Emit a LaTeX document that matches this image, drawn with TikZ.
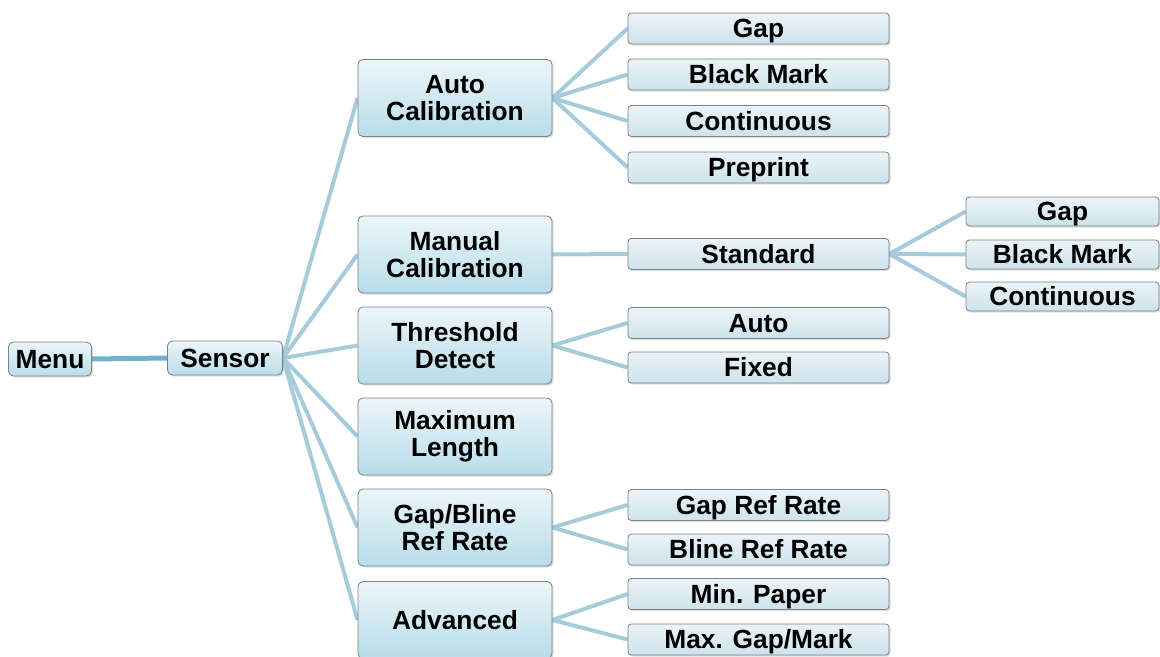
\documentclass[tikz,border=0pt]{standalone}
\usepackage{fontspec}
\setmainfont{Liberation Sans}
\usetikzlibrary{shadows,backgrounds}
\definecolor{linkblue}{RGB}{166,204,220}
\definecolor{rootblue}{RGB}{110,178,204}
\definecolor{boxtop}{RGB}{236,245,249}
\definecolor{boxbot}{RGB}{184,221,233}
\definecolor{leaftop}{RGB}{236,243,247}
\definecolor{leafbot}{RGB}{205,227,236}
\definecolor{boxline}{RGB}{120,130,135}
\begin{document}
\begin{tikzpicture}[x=0.6pt,y=-0.6pt,
  every node/.style={inner sep=0pt,font=\fontsize{15.8}{16.4}\selectfont\bfseries,align=center},
  box/.style={draw=boxline,line width=0.5pt,rounded corners=3pt,top color=boxtop,bottom color=boxbot,
    drop shadow={shadow xshift=1pt,shadow yshift=-1pt,opacity=0.25}},
  topbox/.style={box,minimum height=20.4pt,text height=11.3pt,text depth=0pt},
  midbox/.style={box,minimum width=116.4pt,minimum height=46.2pt},
  leafbox/.style={box,top color=leaftop,bottom color=leafbot,rounded corners=2pt,
    minimum width=156.6pt,minimum height=18.6pt,text height=11.3pt,text depth=0pt},
  subbox/.style={leafbox,minimum width=115.8pt,minimum height=17.4pt},
  link/.style={draw=linkblue,line width=2.4pt}]
\useasboundingbox (0,0) rectangle (1160,657);
\node[topbox,minimum width=49.8pt] (menu) at (50,359) {Menu};
\node[topbox,minimum width=69pt] (sensor) at (225,358) {Sensor};
\node[midbox] (autocal) at (455,98) {Auto\\Calibration};
\node[midbox] (mancal) at (455,254.5) {Manual\\Calibration};
\node[midbox] (thresh) at (455,345.5) {Threshold\\Detect};
\node[midbox] (maxlen) at (455,436.5) {Maximum\\Length};
\node[midbox] (refrate) at (455,527.5) {Gap/Bline\\Ref Rate};
\node[midbox] (adv) at (455,620) {Advanced};
\node[leafbox] (agap) at (758.5,28.5) {Gap};
\node[leafbox] (amark) at (758.5,74.5) {Black Mark};
\node[leafbox] (acont) at (758.5,121) {Continuous};
\node[leafbox] (apre) at (758.5,167.5) {Preprint};
\node[leafbox] (std) at (758.5,254) {Standard};
\node[leafbox] (tauto) at (758.5,323) {Auto};
\node[leafbox] (tfix) at (758.5,367.5) {Fixed};
\node[leafbox] (gaprate) at (758.5,505) {Gap Ref Rate};
\node[leafbox] (blinerate) at (758.5,549.5) {Bline Ref Rate};
\node[leafbox] (minpaper) at (758.5,594) {Min. Paper};
\node[leafbox] (maxgap) at (758.5,639.5) {Max. Gap/Mark};
\node[subbox] (sgap) at (1062.5,211.5) {Gap};
\node[subbox] (smark) at (1062.5,254.5) {Black Mark};
\node[subbox] (scont) at (1062.5,296.5) {Continuous};
% links go under the boxes
\begin{pgfonlayer}{background}
\draw[link,draw=rootblue,line width=3pt] (menu.east)--(sensor.west);
\foreach \child in {autocal,mancal,thresh,maxlen,refrate,adv}
  \draw[link] (sensor.east)--(\child.west);
\foreach \child in {agap,amark,acont,apre}
  \draw[link] (autocal.east)--(\child.west);
\draw[link] (mancal.east)--(std.west);
\foreach \child in {tauto,tfix}
  \draw[link] (thresh.east)--(\child.west);
\foreach \child in {gaprate,blinerate}
  \draw[link] (refrate.east)--(\child.west);
\foreach \child in {minpaper,maxgap}
  \draw[link] (adv.east)--(\child.west);
\foreach \child in {sgap,smark,scont}
  \draw[link] (std.east)--(\child.west);
\end{pgfonlayer}
\end{tikzpicture}
\end{document}
